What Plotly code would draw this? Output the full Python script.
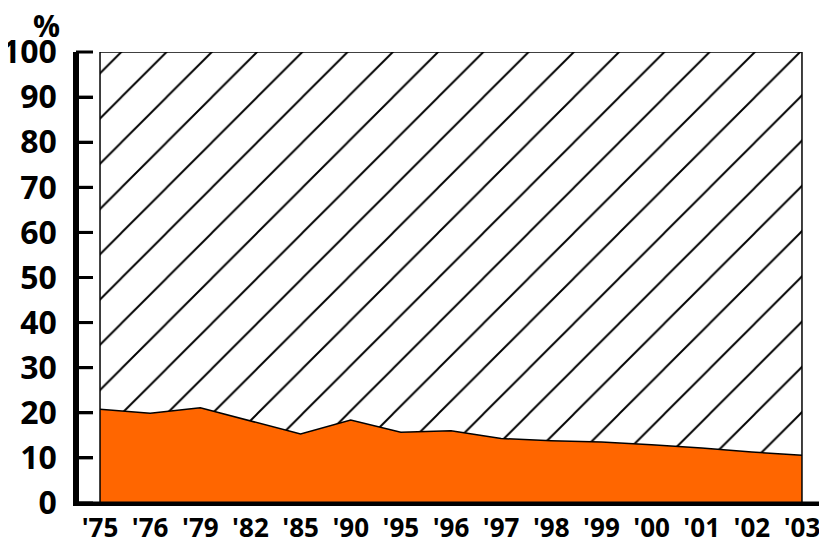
import plotly.graph_objects as go

years = ["'75", "'76", "'79", "'82", "'85", "'90", "'95", "'96", "'97", "'98", "'99", "'00", "'01", "'02", "'03"]
share = [20.8, 19.9, 21.1, 18.2, 15.3, 18.4, 15.7, 16.0, 14.3, 13.8, 13.5, 12.9, 12.2, 11.3, 10.6]
total = [100] * len(years)
y_ticks = [0, 10, 20, 30, 40, 50, 60, 70, 80, 90, 100]

YFONT = dict(family="Open Sans", size=32, color="black", weight="bold")
PFONT = dict(family="Open Sans", size=30, color="black", weight="bold")
XFONT = dict(family="Open Sans", size=26, color="black", weight="bold")

fig = go.Figure()
fig.add_trace(go.Scatter(
    x=years, y=share, mode="lines", fill="tozeroy",
    fillcolor="#FF6600", line=dict(color="black", width=1.5),
    hoverinfo="skip", showlegend=False))
fig.add_trace(go.Scatter(
    x=years, y=total, mode="lines", fill="tonexty",
    fillcolor="white",
    fillpattern=dict(shape="/", size=32, solidity=0.06, fgcolor="black", bgcolor="white", fgopacity=1),
    line=dict(color="black", width=1.5),
    hoverinfo="skip", showlegend=False))

n = len(years)
PW = 750.0  # plot-area width in px
Y_MAX = 100.0
axis_line = dict(color="#000000", width=3)
shapes = [
    dict(type="line", xref="x", yref="y", x0=0, x1=0, y0=0, y1=Y_MAX,
         line=dict(color="black", width=1.5)),
    dict(type="line", xref="x", yref="y", x0=n - 1, x1=n - 1, y0=0, y1=Y_MAX,
         line=dict(color="black", width=1.5)),
    dict(type="line", xref="paper", yref="paper", x0=0.002, x1=0.002, y0=0, y1=1,
         line=axis_line, layer="above"),
    dict(type="line", xref="paper", yref="paper", x0=0, x1=1, y0=0, y1=0,
         line=axis_line, layer="above"),
    dict(type="line", xref="paper", yref="paper", x0=0.998, x1=0.998, y0=0, y1=0.022,
         line=axis_line, layer="above"),
]
for t in y_ticks:
    shapes.append(dict(type="line", xref="paper", yref="paper", x0=0, x1=17 / PW,
                       y0=t / Y_MAX, y1=t / Y_MAX, line=dict(color="#000000", width=3),
                       layer="above"))

fig.update_layout(
    width=819, height=530,
    margin=dict(l=68, r=1, t=44, b=35, autoexpand=False),
    paper_bgcolor="white", plot_bgcolor="rgba(0,0,0,0)",
    xaxis=dict(type="category", categoryarray=years, range=[-0.479, n - 1 + 0.479],
               showgrid=False, zeroline=False, showline=True, linecolor="black", linewidth=2.5,
               ticks="", tickfont=XFONT, automargin=False, fixedrange=True),
    yaxis=dict(range=[0, Y_MAX], tickvals=y_ticks, showgrid=False, zeroline=False,
               showline=True, linecolor="black", linewidth=2.5,
               ticks="inside", ticklen=17, tickwidth=3, tickcolor="black",
               ticklabelstandoff=10, tickfont=YFONT, automargin=False, fixedrange=True),
    shapes=shapes,
    annotations=[dict(text="%", xref="paper", yref="paper", x=-0.0187, y=1.058,
                      xanchor="right", yanchor="middle", showarrow=False, font=PFONT)],
)
fig.write_html("out.html")
